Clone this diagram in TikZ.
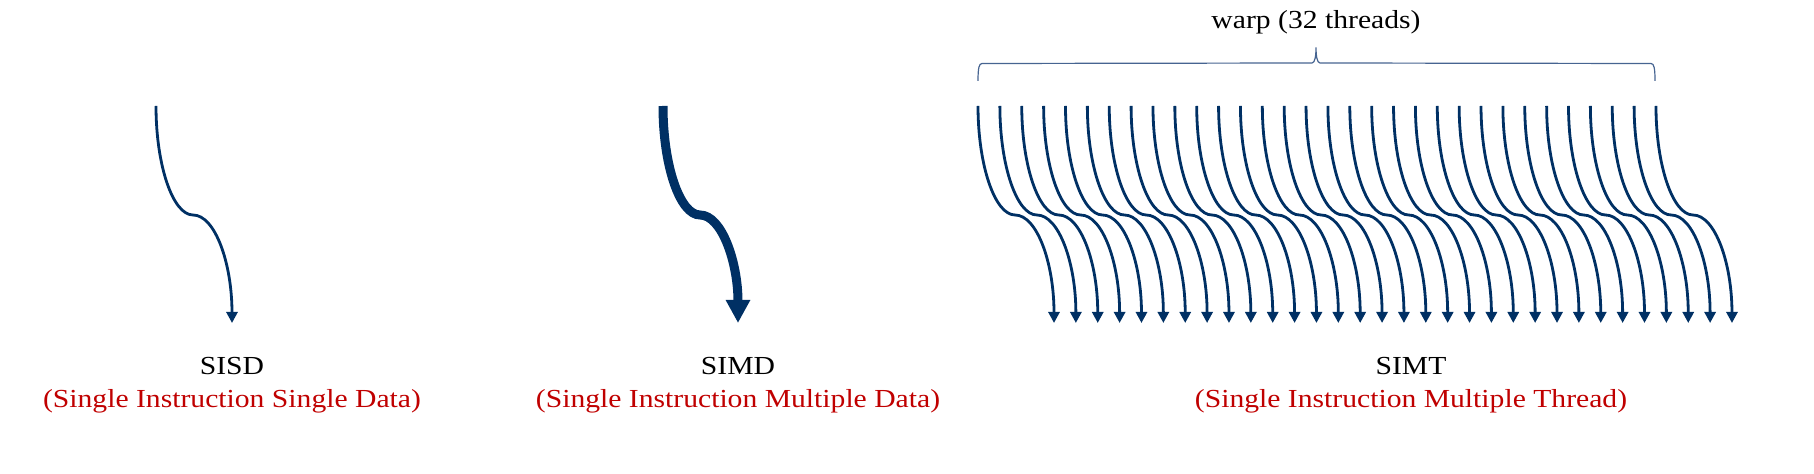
\documentclass[tikz,border=0pt]{standalone}
\usepackage{fontspec}
\setmainfont{Liberation Serif}[FakeStretch=1.14]
\usepackage{tikz}
\usetikzlibrary{arrows.meta,calc,positioning}

\definecolor{threadblue}{RGB}{0,48,100}
\definecolor{bracegray}{RGB}{70,100,145}
\definecolor{namered}{RGB}{192,0,0}

% one thread: top -> mid (flat) -> tip
\newcommand{\drawthread}[4]{%
  \draw[#1] (#2) .. controls ($(#2)+(0,60)$) and ($(#3)+(-20,0)$) .. (#3)
    .. controls ($(#3)+(22,0)$) and ($(#4)+(0,-60)$) .. (#4);}

\begin{document}
\begin{tikzpicture}[x=0.5pt,y=-0.5pt,
  thread/.style={draw=threadblue, line width=1.4pt, -{Triangle[length=5.5pt,width=5.5pt]}},
  fatthread/.style={draw=threadblue, line width=4.5pt, -{Triangle[length=11.5pt,width=11.5pt]}},
  warpbrace/.style={draw=bracegray, line width=0.6pt},
  title/.style={anchor=base, inner sep=0pt, font=\fontsize{13}{15}\selectfont},
  fullname/.style={title, text=namered}]
\useasboundingbox (0,0) rectangle (1814,474);

% SISD
\coordinate (sisdtop) at (156,106);
\coordinate (sisdmid) at (193,215);
\coordinate (sisdtip) at (232,323);
\drawthread{thread}{sisdtop}{sisdmid}{sisdtip}
\node[title] (sisd) at (232,375) {SISD};
\node[fullname] (sisdfull) at (232,408) {(Single Instruction Single Data)};

% SIMD
\coordinate (simdtop) at (663,106);
\coordinate (simdmid) at (700,215);
\coordinate (simdtip) at (738,323);
\drawthread{fatthread}{simdtop}{simdmid}{simdtip}
\node[title] (simd) at (738,375) {SIMD};
\node[fullname] (simdfull) at (738,408) {(Single Instruction Multiple Data)};

% SIMT, one warp
\foreach \i in {0,...,31}{
  \pgfmathsetmacro{\tx}{978+21.87*\i}
  \coordinate (top\i) at (\tx,106);
  \coordinate (mid\i) at (\tx+37,215);
  \coordinate (tip\i) at (\tx+76,323);
  \drawthread{thread}{top\i}{mid\i}{tip\i}
}
\coordinate (warpleft) at (978,81);
\coordinate (warptip) at (1316,47.5);
\coordinate (warpright) at (1655,81);
\draw[warpbrace] (warpleft)
  .. controls ($(warpleft)+(0,-13)$) and ($(warpleft)+(1,-17.5)$) .. ($(warpleft)+(4,-17.5)$)
  -- ($(warptip)+(-4,15.5)$)
  .. controls ($(warptip)+(-1,15.5)$) and ($(warptip)+(0,8)$) .. (warptip)
  .. controls ($(warptip)+(0,8)$) and ($(warptip)+(1,15.5)$) .. ($(warptip)+(4,15.5)$)
  -- ($(warpright)+(-4,-17.5)$)
  .. controls ($(warpright)+(-1,-17.5)$) and ($(warpright)+(0,-13)$) .. (warpright);
\node[title] (warp) at (1316,29) {warp (32 threads)};
\node[title] (simt) at (1411,375) {SIMT};
\node[fullname] (simtfull) at (1411,408) {(Single Instruction Multiple Thread)};
\end{tikzpicture}
\end{document}
